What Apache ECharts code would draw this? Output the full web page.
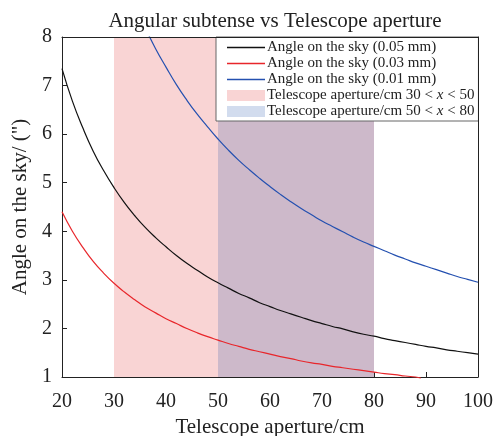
<!DOCTYPE html>
<html>
<head>
<meta charset="utf-8">
<script src="https://cdn.jsdelivr.net/npm/echarts@6/dist/echarts.min.js"></script>
<style>
  html, body { margin: 0; padding: 0; background: #fff; }
  #chart { width: 496px; height: 436px; }
</style>
</head>
<body>
<div id="chart"></div>
<script>
// Telescope aperture (cm) and angle on the sky (arcsec) for three pixel sizes
const aperture05 = [20,22,24,26,28,30,32,34,36,38,40,42,44,46,48,50,52,54,56,58,60,62,64,66,68,70,72,74,76,78,80,82,84,86,88,90,92,94,96,98,100];
const angle05 = [7.35,6.68,6.13,5.65,5.25,4.90,4.59,4.32,4.08,3.87,3.68,3.50,3.34,3.20,3.06,2.94,2.83,2.72,2.63,2.53,2.45,2.37,2.30,2.23,2.16,2.10,2.04,1.99,1.93,1.88,1.84,1.79,1.75,1.71,1.67,1.63,1.60,1.56,1.53,1.50,1.47];

const aperture03 = [20,22,24,26,28,30,32,34,36,38,40,42,44,46,48,50,52,54,56,58,60,62,64,66,68,70,72,74,76,78,80,82,84,86,88,89];
const angle03 = [4.40,4.00,3.67,3.38,3.14,2.93,2.75,2.59,2.44,2.32,2.20,2.10,2.00,1.91,1.83,1.76,1.69,1.63,1.57,1.52,1.47,1.42,1.38,1.33,1.29,1.26,1.22,1.19,1.16,1.13,1.10,1.07,1.05,1.02,1.00,0.98];

const aperture01 = [36,38,40,42,44,46,48,50,52,54,56,58,60,62,64,66,68,70,72,74,76,78,80,82,84,86,88,90,92,94,96,98,100];
const angle01 = [8.19,7.76,7.38,7.02,6.70,6.41,6.15,5.90,5.67,5.46,5.27,5.09,4.92,4.76,4.61,4.47,4.34,4.21,4.10,3.99,3.88,3.78,3.69,3.60,3.51,3.43,3.35,3.28,3.21,3.14,3.07,3.01,2.95];

// Shaded aperture ranges
const bandA = [30, 50];
const bandB = [50, 80];

const xTicks = { min: 20, max: 100, step: 10 };
const yTicks = { min: 1, max: 8, step: 1 };

const FONT = 'Liberation Serif';
const INK = '#222';
const LINE_ICON = 'path://M0,0H38V1.5H0Z';
const COLORS = { c05: '#111111', c03: '#e8262b', c01: '#2450b0', bandA: '#f9d4d4', bandB: '#d2dcee', overlap: '#cdb9ca' };

function pair(xs, ys) { return xs.map((x, i) => [x, ys[i]]); }

const chart = echarts.init(document.getElementById('chart'), null, { renderer: 'canvas' });

const lineSeries = (name, xs, ys, color, clip) => ({
  name, type: 'line', data: pair(xs, ys), smooth: true, symbol: 'none',
  clip, z: 5,
  lineStyle: { color, width: 1.2 }, itemStyle: { color }
});

const lineLegend = (name, color) => ({
  name, icon: LINE_ICON,
  itemStyle: { color, borderWidth: 0 },
  lineStyle: { color, width: 0 }
});

chart.setOption({
  animation: false,
  title: {
    text: 'Angular subtense vs Telescope aperture',
    left: 270, top: 6, textAlign: 'center',
    textStyle: { fontFamily: FONT, fontSize: 21, fontWeight: 'normal', color: INK }
  },
  grid: { left: 62, right: 18, top: 37, bottom: 59, outerBoundsMode: 'none', containLabel: false },
  legend: {
    orient: 'vertical', left: 216, top: 37,
    backgroundColor: '#fff', borderColor: '#666', borderWidth: 1,
    padding: [3, 4, 2, 11],
    itemWidth: 38, itemHeight: 11, itemGap: 1,
    textStyle: {
      fontFamily: FONT, fontSize: 15, color: INK, padding: [0, 0, 0, -3],
      rich: { n: { fontFamily: FONT, fontSize: 15, color: INK },
              i: { fontFamily: FONT, fontSize: 15, color: INK, fontStyle: 'italic' } }
    },
    formatter: (name) => {
      const m = name.match(/^(.*?)(\d+) < x < (\d+)$/);
      if (m) return '{n|' + m[1] + m[2] + ' < }{i|x}{n| < ' + m[3] + '}';
      return name;
    },
    data: [
      lineLegend('Angle on the sky (0.05 mm)', COLORS.c05),
      lineLegend('Angle on the sky (0.03 mm)', COLORS.c03),
      lineLegend('Angle on the sky (0.01 mm)', COLORS.c01),
      { name: 'Telescope aperture/cm 30 < x < 50', icon: 'rect', itemStyle: { color: COLORS.bandA, borderWidth: 0 } },
      { name: 'Telescope aperture/cm 50 < x < 80', icon: 'rect', itemStyle: { color: COLORS.bandB, borderWidth: 0 } }
    ]
  },
  xAxis: [{
    type: 'value', min: xTicks.min, max: xTicks.max, interval: xTicks.step,
    name: 'Telescope aperture/cm', nameLocation: 'middle', nameGap: 40,
    nameTextStyle: { fontFamily: FONT, fontSize: 21, color: INK },
    axisLine: { show: true, lineStyle: { color: INK, width: 1 } },
    axisTick: { show: true, inside: true, length: 5, lineStyle: { color: INK } },
    axisLabel: { fontFamily: FONT, fontSize: 20, color: INK, margin: 15 },
    splitLine: { show: false }
  }, {
    type: 'value', position: 'top', min: xTicks.min, max: xTicks.max,
    axisLine: { show: true, onZero: false, lineStyle: { color: INK, width: 1 } },
    axisTick: { show: false }, axisLabel: { show: false }, splitLine: { show: false }, z: 10
  }],
  yAxis: [{
    type: 'value', min: yTicks.min, max: yTicks.max, interval: yTicks.step,
    name: "Angle on the sky/ (\")", nameLocation: 'middle', nameGap: 30, nameRotate: 90,
    nameTextStyle: { fontFamily: FONT, fontSize: 21, color: INK },
    axisLine: { show: true, lineStyle: { color: INK, width: 1 } },
    axisTick: { show: true, inside: true, length: 5, lineStyle: { color: INK } },
    axisLabel: { fontFamily: FONT, fontSize: 20, color: INK, margin: 10 },
    splitLine: { show: false }
  }, {
    type: 'value', position: 'right', min: yTicks.min, max: yTicks.max,
    axisLine: { show: true, onZero: false, lineStyle: { color: INK, width: 1 } },
    axisTick: { show: false }, axisLabel: { show: false }, splitLine: { show: false }, z: 10
  }],
  series: [
    lineSeries('Angle on the sky (0.05 mm)', aperture05, angle05, COLORS.c05, true),
    lineSeries('Angle on the sky (0.03 mm)', aperture03, angle03, COLORS.c03, false),
    lineSeries('Angle on the sky (0.01 mm)', aperture01, angle01, COLORS.c01, true),
    {
      name: 'Telescope aperture/cm 30 < x < 50', type: 'line', data: [], symbol: 'none',
      itemStyle: { color: COLORS.bandA }, lineStyle: { color: COLORS.bandA },
      markArea: { silent: true, itemStyle: { color: COLORS.bandA }, data: [[{ xAxis: bandA[0] }, { xAxis: bandA[1] }]] }
    },
    {
      name: 'Telescope aperture/cm 50 < x < 80', type: 'line', data: [], symbol: 'none',
      itemStyle: { color: COLORS.bandB }, lineStyle: { color: COLORS.bandB },
      markArea: { silent: true, itemStyle: { color: COLORS.overlap }, data: [[{ xAxis: bandB[0] }, { xAxis: bandB[1] }]] }
    }
  ]
});
</script>
</body>
</html>
